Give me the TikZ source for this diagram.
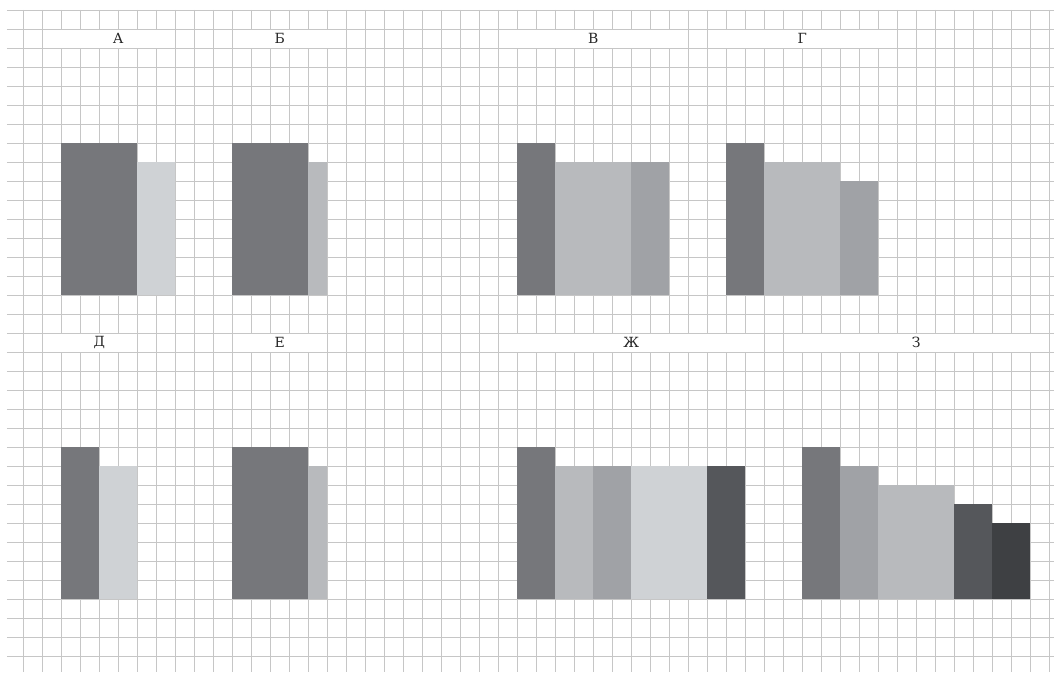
\documentclass[tikz,border=0pt]{standalone}
\usepackage{fontspec}
\setmainfont{DejaVu Serif}
\definecolor{gridc}{HTML}{C6C6C6}
\definecolor{cdark}{HTML}{76777B}
\definecolor{cvlight}{HTML}{CFD2D5}
\definecolor{clight}{HTML}{B8BABD}
\definecolor{cmed}{HTML}{A0A2A6}
\definecolor{cdeep}{HTML}{55575B}
\definecolor{cdeepest}{HTML}{3E4043}
\tikzset{
  gridline/.style={draw=gridc, line width=0.55pt},
  bandbox/.style={fill=white, draw=none},
  lbl/.style={font=\fontsize{10.5}{12}\selectfont, inner sep=0pt, text=black!85},
  bardark/.style={fill=cdark},
  barvlight/.style={fill=cvlight},
  barlight/.style={fill=clight},
  barmed/.style={fill=cmed},
  bardeep/.style={fill=cdeep},
  bardeepest/.style={fill=cdeepest}
}
\begin{document}
\begin{tikzpicture}[x=0.5cm,y=0.5cm]
\useasboundingbox (-0.226,0.526) rectangle (55.247,-34.895);
% vertical grid lines
\foreach \k in {1,...,55} \draw[gridline] (\k,0) -- (\k,-34.84);
% white label bands
\foreach \a/\b/\m in {2.94/8.94/1, 12.06/17.06/1, 26.94/35.06/1, 37.94/46.06/1, 2.94/6.94/17, 12.94/16.06/17, 26.94/39.06/17, 41.94/54.06/17}
  \fill[bandbox] (\a,-\m) rectangle (\b,-\m-1);
% horizontal grid lines
\foreach \m in {0,...,34} \draw[gridline] (0.142,-\m) -- (55.247,-\m);
% labels
\node[lbl] (lA) at (6,-1.5) {А};
\node[lbl] (lB) at (14.5,-1.5) {Б};
\node[lbl] (lV) at (31,-1.5) {В};
\node[lbl] (lG) at (42,-1.5) {Г};
\node[lbl] (lD) at (5,-17.5) {Д};
\node[lbl] (lE) at (14.5,-17.5) {Е};
\node[lbl] (lZh) at (33,-17.5) {Ж};
\node[lbl] (lZ) at (48,-17.5) {З};
% A
\fill[bardark] (3,-7) rectangle (7,-15);
\fill[barvlight] (7,-8) rectangle (9,-15);
% Б
\fill[bardark] (12,-7) rectangle (16,-15);
\fill[barlight] (16,-8) rectangle (17,-15);
% В
\fill[bardark] (27,-7) rectangle (29,-15);
\fill[barlight] (29,-8) rectangle (33,-15);
\fill[barmed] (33,-8) rectangle (35,-15);
% Г
\fill[bardark] (38,-7) rectangle (40,-15);
\fill[barlight] (40,-8) rectangle (44,-15);
\fill[barmed] (44,-9) rectangle (46,-15);
% Д
\fill[bardark] (3,-23) rectangle (5,-31);
\fill[barvlight] (5,-24) rectangle (7,-31);
% Е
\fill[bardark] (12,-23) rectangle (16,-31);
\fill[barlight] (16,-24) rectangle (17,-31);
% Ж
\fill[bardark] (27,-23) rectangle (29,-31);
\fill[barlight] (29,-24) rectangle (31,-31);
\fill[barmed] (31,-24) rectangle (33,-31);
\fill[barvlight] (33,-24) rectangle (37,-31);
\fill[bardeep] (37,-24) rectangle (39,-31);
% З
\fill[bardark] (42,-23) rectangle (44,-31);
\fill[barmed] (44,-24) rectangle (46,-31);
\fill[barlight] (46,-25) rectangle (50,-31);
\fill[bardeep] (50,-26) rectangle (52,-31);
\fill[bardeepest] (52,-27) rectangle (54,-31);
\end{tikzpicture}
\end{document}
